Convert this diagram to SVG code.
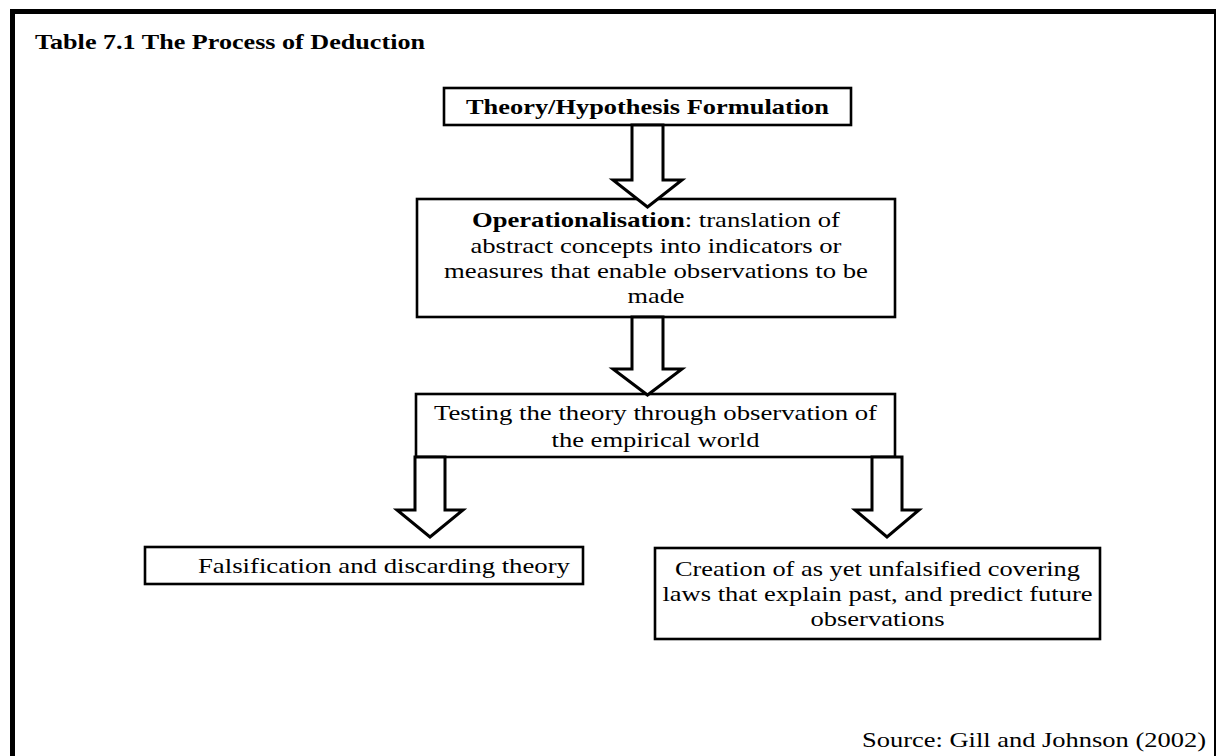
<svg xmlns="http://www.w3.org/2000/svg" width="1217" height="756" viewBox="0 0 1217 756">
  <style>
    .b { font-weight: bold; }
    .mid { text-anchor: middle; }
    .box { fill: #fff; stroke: #000; stroke-width: 2.6; }
    .arrow { fill: #fff; stroke: #000; stroke-width: 3; stroke-linejoin: miter; }
  </style>

  <rect x="0" y="0" width="1217" height="756" fill="#fff"/>

  <!-- page frame: heavy left and top rules, thin right rule -->
  <g id="frame">
    <rect x="10" y="9" width="5" height="747" fill="#000"/>
    <rect x="10" y="9" width="1206" height="5" fill="#000"/>
    <rect x="1214" y="9" width="2" height="747" fill="#000"/>
  </g>

  <g font-family="Liberation Serif, Times New Roman, serif" font-size="21" fill="#000">
    <text id="title" class="b" x="35" y="49" textLength="390" lengthAdjust="spacingAndGlyphs">Table 7.1 The Process of Deduction</text>

    <g id="theory">
      <rect class="box" x="444" y="88" width="407" height="37"/>
      <text class="b mid" x="647.5" y="114" textLength="363" lengthAdjust="spacingAndGlyphs">Theory/Hypothesis Formulation</text>
    </g>

    <g id="operationalisation">
      <rect class="box" x="417" y="199" width="478" height="118"/>
      <text class="mid" x="656" y="227" textLength="368" lengthAdjust="spacingAndGlyphs"><tspan class="b">Operationalisation</tspan>: translation of</text>
      <text class="mid" x="656" y="253" textLength="371" lengthAdjust="spacingAndGlyphs">abstract concepts into indicators or</text>
      <text class="mid" x="656" y="278" textLength="424" lengthAdjust="spacingAndGlyphs">measures that enable observations to be</text>
      <text class="mid" x="656" y="303" textLength="57" lengthAdjust="spacingAndGlyphs">made</text>
    </g>

    <g id="testing">
      <rect class="box" x="416" y="394" width="479" height="63"/>
      <text class="mid" x="655.5" y="420" textLength="443" lengthAdjust="spacingAndGlyphs">Testing the theory through observation of</text>
      <text class="mid" x="655.5" y="447" textLength="208" lengthAdjust="spacingAndGlyphs">the empirical world</text>
    </g>

    <g id="falsification">
      <rect class="box" x="145" y="547" width="438" height="37"/>
      <text class="mid" x="384" y="573" textLength="372" lengthAdjust="spacingAndGlyphs">Falsification and discarding theory</text>
    </g>

    <g id="covering-laws">
      <rect class="box" x="655" y="548" width="445" height="91"/>
      <text class="mid" x="877.5" y="576" textLength="405" lengthAdjust="spacingAndGlyphs">Creation of as yet unfalsified covering</text>
      <text class="mid" x="877.5" y="601" textLength="430" lengthAdjust="spacingAndGlyphs">laws that explain past, and predict future</text>
      <text class="mid" x="877.5" y="626" textLength="134" lengthAdjust="spacingAndGlyphs">observations</text>
    </g>

    <!-- block arrows, drawn over the boxes they touch -->
    <g id="connectors">
      <path class="arrow" d="M632,125 L663,125 L663,180 L682,180 L647.5,207 L613,180 L632,180 Z"/>
      <path class="arrow" d="M632,317 L663,317 L663,369 L682,369 L647.5,395 L613,369 L632,369 Z"/>
      <path class="arrow" d="M415,457 L445,457 L445,510 L463,510 L430,537 L397,510 L415,510 Z"/>
      <path class="arrow" d="M872,457 L902,457 L902,510 L919,510 L887,537 L855,510 L872,510 Z"/>
    </g>

    <text id="source" x="1206" y="747" text-anchor="end" textLength="344" lengthAdjust="spacingAndGlyphs">Source: Gill and Johnson (2002)</text>
  </g>
</svg>
